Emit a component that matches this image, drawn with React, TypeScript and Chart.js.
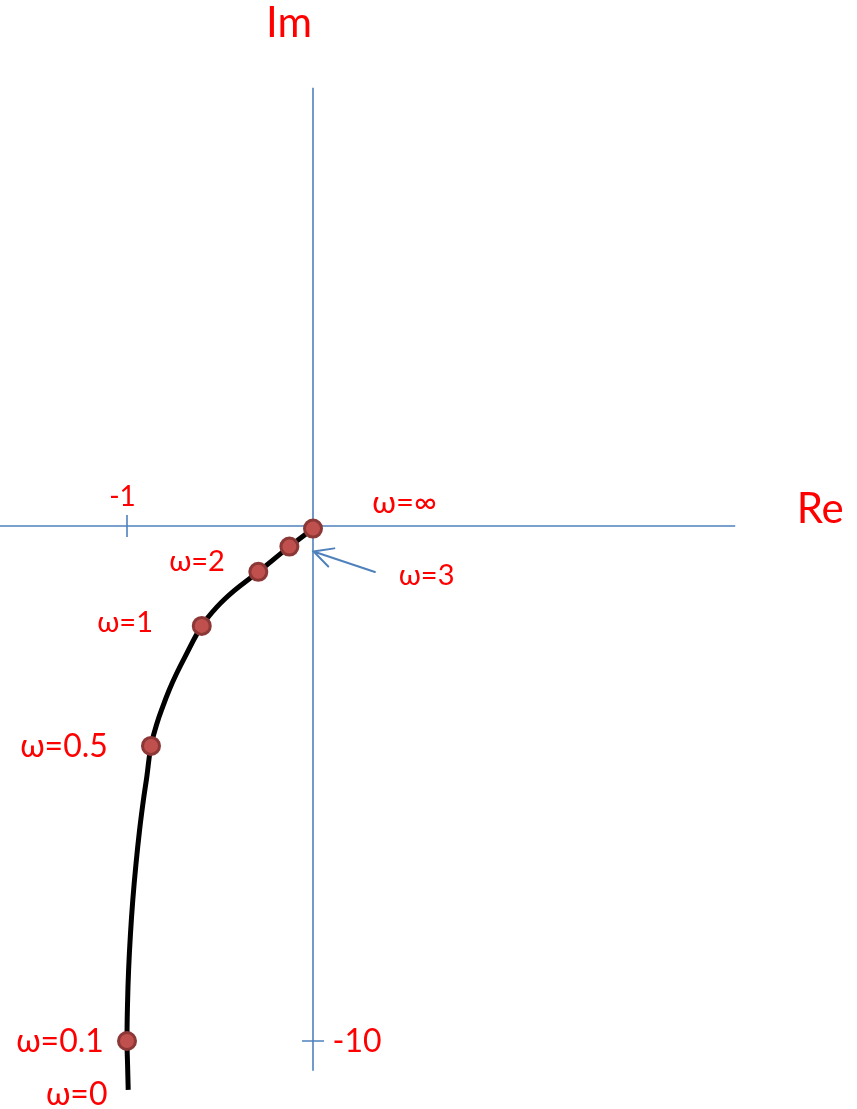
import React, { useEffect, useRef } from "react";
import { Chart, registerables } from "chart.js";

Chart.register(...registerables);

// Nyquist locus of the open-loop frequency response, traced from ω = 0 up to ω = ∞
const curveRe = [-0.9935, -0.9968, -1.0, -0.9973, -0.9914, -0.9817, -0.9688, -0.9522, -0.9323, -0.9118, -0.8935, -0.871, -0.8387, -0.8081, -0.7726, -0.7328, -0.6882, -0.598, -0.5161, -0.422, -0.294, -0.127, 0.0];
const curveIm = [-10.95, -10.47, -10.0, -9.3, -8.62, -7.94, -7.26, -6.58, -5.9, -5.32, -4.87, -4.27, -3.83, -3.51, -3.18, -2.86, -2.54, -1.94, -1.57, -1.25, -0.89, -0.4, -0.05];

// Marked frequencies on the locus
const markerLabels = ["ω=0.1", "ω=0.5", "ω=1", "ω=2", "ω=3", "ω=∞"];
const markerRe = [-1.0, -0.871, -0.598, -0.294, -0.127, 0.0];
const markerIm = [-10.0, -4.27, -1.94, -0.89, -0.4, -0.05];

// Start of the locus
const startLabel = "ω=0";

// Axis ticks
const reTicks = [-1];
const reTickLabels = ["-1"];
const imTicks = [-10];
const imTickLabels = ["-10"];

// Axis extents (data units)
const reAxisRange = [-1.683, 2.27];
const imAxisRange = [8.51, -10.58];

// Pointer for ω=3 : tail and tip (data units)
const pointerRe = [0.333, 0.003];
const pointerIm = [-0.893, -0.495];

const RED = "#ff0000";
const AXIS = "#4f81bd";
const FONT = "Lato, 'DejaVu Sans', sans-serif";

// Label placement relative to each marker: [dx to text centre, dy to baseline, font size]
const markerLabelPlacement: Record<string, [number, number, number]> = {
  "ω=0.1": [-67, 10.5, 32],
  "ω=0.5": [-87, 10.7, 32],
  "ω=1": [-76.7, 6, 29],
  "ω=2": [-61.3, -1, 29],
  "ω=3": [137.2, 38.5, 29],
  "ω=∞": [91.5, -15.5, 31],
};

const axesPlugin = {
  id: "complexAxes",
  beforeDatasetsDraw(chart: any) {
    const { ctx, scales } = chart;
    const x = scales.x;
    const y = scales.y;
    const x0 = x.getPixelForValue(0);
    const y0 = y.getPixelForValue(0);
    ctx.save();
    ctx.strokeStyle = AXIS;
    ctx.lineWidth = 1.6;
    ctx.beginPath();
    ctx.moveTo(x.getPixelForValue(reAxisRange[0]), y0);
    ctx.lineTo(x.getPixelForValue(reAxisRange[1]), y0);
    ctx.moveTo(x0, y.getPixelForValue(imAxisRange[0]));
    ctx.lineTo(x0, y.getPixelForValue(imAxisRange[1]));
    const tickHalf = 11;
    reTicks.forEach((v) => {
      const px = x.getPixelForValue(v);
      ctx.moveTo(px, y0 - tickHalf);
      ctx.lineTo(px, y0 + tickHalf);
    });
    imTicks.forEach((v) => {
      const py = y.getPixelForValue(v);
      ctx.moveTo(x0 - tickHalf, py);
      ctx.lineTo(x0 + tickHalf, py);
    });
    ctx.stroke();
    ctx.restore();
  },
  afterDraw(chart: any) {
    const { ctx, scales } = chart;
    const x = scales.x;
    const y = scales.y;
    const x0 = x.getPixelForValue(0);
    const y0 = y.getPixelForValue(0);
    ctx.save();
    ctx.fillStyle = RED;
    ctx.textAlign = "center";
    ctx.textBaseline = "alphabetic";

    // Axis names
    ctx.font = `42px ${FONT}`;
    ctx.fillText("Im", x0 - 24, y.getPixelForValue(imAxisRange[0]) - 51);
    ctx.fillText("Re", x.getPixelForValue(reAxisRange[1]) + 85, y0 - 3);

    // Tick labels
    ctx.font = `28px ${FONT}`;
    reTicks.forEach((v, i) => {
      ctx.fillText(reTickLabels[i], x.getPixelForValue(v) - 4.5, y0 - 20);
    });
    ctx.font = `32px ${FONT}`;
    imTicks.forEach((v, i) => {
      ctx.fillText(imTickLabels[i], x0 + 44, y.getPixelForValue(v) + 10.5);
    });

    // Frequency labels
    markerLabels.forEach((lbl, i) => {
      const [dx, dy, size] = markerLabelPlacement[lbl];
      ctx.font = `${size}px ${FONT}`;
      ctx.fillText(lbl, x.getPixelForValue(markerRe[i]) + dx, y.getPixelForValue(markerIm[i]) + dy);
    });
    ctx.font = `32px ${FONT}`;
    ctx.fillText(startLabel, x.getPixelForValue(curveRe[0]) - 51.5, y.getPixelForValue(curveIm[0]) + 15);

    // Pointer arrow
    const tx = x.getPixelForValue(pointerRe[0]);
    const ty = y.getPixelForValue(pointerIm[0]);
    const hx = x.getPixelForValue(pointerRe[1]);
    const hy = y.getPixelForValue(pointerIm[1]);
    const ang = Math.atan2(ty - hy, tx - hx);
    const wing = 21;
    const spread = (27 * Math.PI) / 180;
    ctx.strokeStyle = AXIS;
    ctx.lineWidth = 2;
    ctx.lineCap = "round";
    ctx.beginPath();
    ctx.moveTo(tx, ty);
    ctx.lineTo(hx, hy);
    ctx.moveTo(hx + wing * Math.cos(ang + spread), hy + wing * Math.sin(ang + spread));
    ctx.lineTo(hx, hy);
    ctx.lineTo(hx + wing * Math.cos(ang - spread), hy + wing * Math.sin(ang - spread));
    ctx.stroke();
    ctx.restore();
  },
};

export default function App() {
  const canvasRef = useRef<HTMLCanvasElement | null>(null);

  useEffect(() => {
    document.body.style.margin = "0";
    const canvas = canvasRef.current;
    if (!canvas) return;
    const W = 857;
    const H = 1109;
    // Scale: 186 px per unit of Re, 51.5 px per unit of Im, origin at (313, 526)
    const xMin = -313 / 186;
    const xMax = (W - 313) / 186;
    const yMax = 526 / 51.5;
    const yMin = -(H - 526) / 51.5;

    const chart = new Chart(canvas, {
      type: "scatter",
      data: {
        datasets: [
          {
            label: "locus",
            data: curveRe.map((re, i) => ({ x: re, y: curveIm[i] })),
            showLine: true,
            borderColor: "#000000",
            borderWidth: 5,
            pointRadius: 0,
            tension: 0.4,
            fill: false,
            order: 2,
          },
          {
            label: "frequencies",
            data: markerRe.map((re, i) => ({ x: re, y: markerIm[i] })),
            showLine: false,
            pointRadius: 8.5,
            pointBackgroundColor: "#c0504d",
            pointBorderColor: "#8c3836",
            pointBorderWidth: 3,
            order: 1,
          },
        ],
      },
      options: {
        responsive: false,
        animation: false,
        layout: { padding: 0, autoPadding: false },
        plugins: {
          legend: { display: false },
          tooltip: { enabled: false },
          title: { display: false },
        },
        scales: {
          x: { type: "linear", min: xMin, max: xMax, display: false },
          y: { type: "linear", min: yMin, max: yMax, display: false },
        },
      },
      plugins: [axesPlugin],
    });
    return () => chart.destroy();
  }, []);

  return (
    <div style={{ position: "fixed", left: 0, top: 0, width: 857, height: 1109, background: "#fff" }}>
      <canvas ref={canvasRef} width={857} height={1109} style={{ display: "block" }} />
    </div>
  );
}
